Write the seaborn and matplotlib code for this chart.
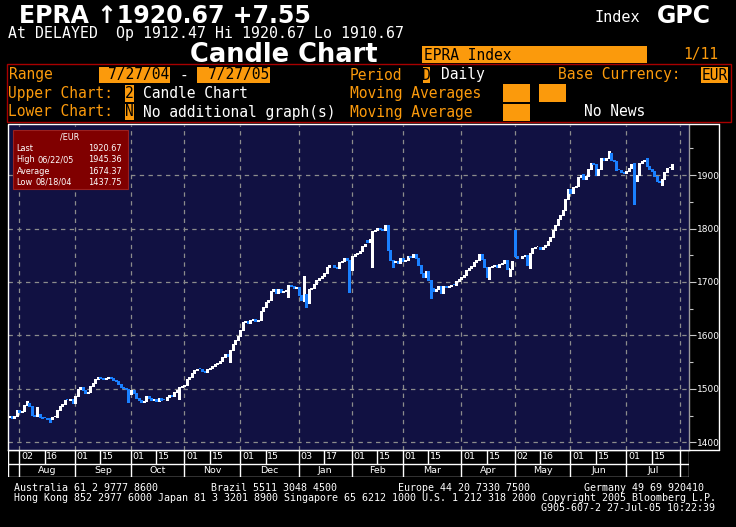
import numpy as np
import pandas as pd
import matplotlib.pyplot as plt
import seaborn as sns
from matplotlib.patches import Rectangle
from matplotlib.lines import Line2D

# ==========================================
# DATA (EPRA index, daily closes)
# ==========================================
close_jul04 = [1450, 1446, 1449, 1461]
close_aug04 = [1457, 1459, 1470, 1473, 1468, 1451, 1449, 1452, 1447, 1446, 1445,
               1444, 1443, 1447, 1448, 1461, 1467, 1472, 1480, 1479, 1481, 1473]
close_sep04 = [1486, 1499, 1503, 1497, 1492, 1495, 1506, 1511, 1518, 1522, 1520,
               1518, 1521, 1522, 1520, 1516, 1514, 1509, 1504, 1502, 1499, 1490]
close_oct04 = [1497, 1493, 1483, 1480, 1476, 1478, 1486, 1482, 1479, 1481, 1478,
               1482, 1480, 1479, 1484, 1488, 1486, 1494, 1497, 1503, 1506]
close_nov04 = [1508, 1518, 1522, 1530, 1536, 1538, 1537, 1534, 1532, 1537, 1539,
               1543, 1546, 1548, 1553, 1560, 1566, 1562, 1572, 1584, 1592, 1598]
close_dec04 = [1610, 1625, 1627, 1624, 1628, 1630, 1627, 1629, 1645, 1654, 1662,
               1667, 1683, 1686, 1680, 1686, 1682, 1683, 1685, 1694, 1693, 1689, 1690]
close_jan05 = [1675, 1667, 1678, 1661, 1687, 1688, 1696, 1703, 1708, 1712, 1717,
               1728, 1732, 1731, 1728, 1727, 1738, 1740, 1745, 1742, 1722]
close_feb05 = [1748, 1752, 1755, 1758, 1768, 1772, 1774, 1780, 1795, 1797, 1802,
               1800, 1797, 1806, 1760, 1742, 1738, 1740, 1736, 1745]
close_mar05 = [1740, 1741, 1748, 1746, 1752, 1745, 1732, 1717, 1710, 1721, 1704,
               1688, 1684, 1686, 1692, 1679, 1693, 1690, 1692, 1695, 1694, 1702, 1706]
close_apr05 = [1710, 1713, 1722, 1726, 1730, 1738, 1742, 1752, 1743, 1728, 1710,
               1728, 1730, 1731, 1728, 1733, 1736, 1742, 1724, 1725, 1740]
close_may05 = [1748, 1744, 1745, 1748, 1750, 1732, 1755, 1763, 1765, 1766, 1762,
               1766, 1769, 1777, 1785, 1797, 1806, 1818, 1826, 1834, 1856, 1875]
close_jun05 = [1866, 1878, 1880, 1896, 1900, 1893, 1898, 1912, 1922, 1920, 1901,
               1912, 1932, 1928, 1932, 1945, 1928, 1926, 1910, 1909, 1905, 1904]
close_jul05 = [1908, 1914, 1920, 1890, 1900, 1922, 1927, 1929, 1918, 1912, 1907,
               1898, 1890, 1888, 1893, 1906, 1913, 1913.12, 1920.67]

first_open = 1447
# opens that differ from the prior close (gaps), by trading-day number
open_gaps = {116: 1664, 141: 1778, 199: 1790, 226: 1902, 237: 1942,
             246: 1923, 251: 1932, 261: 1912.47}
# wicks beyond the body
high_wicks = {7: 1477, 11: 1466, 116: 1712, 199: 1798, 236: 1945.36, 261: 1920.67}
low_wicks = {16: 1437.75, 47: 1476, 67: 1481, 87: 1550, 110: 1672, 117: 1653,
             134: 1681, 143: 1728, 151: 1728, 166: 1670, 189: 1706, 197: 1712,
             205: 1727, 246: 1846, 257: 1882, 261: 1910.67}

month_names = ['Aug', 'Sep', 'Oct', 'Nov', 'Dec', 'Jan', 'Feb', 'Mar', 'Apr',
               'May', 'Jun', 'Jul']
y_ticks = [1400, 1500, 1600, 1700, 1800, 1900]

stats_rows = [('Last', '', '1920.67'), ('High', '06/22/05', '1945.36'),
              ('Average', '', '1674.37'), ('Low', '08/18/04', '1437.75')]

# ==========================================
# BUILD OHLC
# ==========================================
closes = np.array(close_jul04 + close_aug04 + close_sep04 + close_oct04 + close_nov04 +
                  close_dec04 + close_jan05 + close_feb05 + close_mar05 + close_apr05 +
                  close_may05 + close_jun05 + close_jul05, dtype=float)
days = pd.bdate_range('2004-07-27', '2005-08-01')   # one extra week for the last grid line
n = len(closes)
opens = np.r_[first_open, closes[:-1]]
for k, v in open_gaps.items():
    opens[k] = v
highs = np.maximum(opens, closes)
lows = np.minimum(opens, closes)
for k, v in high_wicks.items():
    highs[k] = v
for k, v in low_wicks.items():
    lows[k] = v
x = np.arange(n)
down = closes < opens

# month starts and mid-month label days (first business day on/after 1st and 15th)
cal = pd.Series(np.arange(len(days)), index=days)
months = [(2004, 8), (2004, 9), (2004, 10), (2004, 11), (2004, 12), (2005, 1),
          (2005, 2), (2005, 3), (2005, 4), (2005, 5), (2005, 6), (2005, 7)]
month_start = [cal[cal.index >= pd.Timestamp(y, m, 1)].iloc[0] for y, m in months]
month_start.append(cal[cal.index >= pd.Timestamp(2005, 8, 1)].iloc[0])
mid_month = [cal[cal.index >= pd.Timestamp(y, m, 15)].iloc[0] for y, m in months]

# ==========================================
# STYLE
# ==========================================
NAVY = '#111142'
BLUE = '#1a80ff'
ORANGE = '#fb9a0c'
GRID = '#8c8c8c'
sns.set_theme(style="dark", rc={"axes.facecolor": NAVY, "figure.facecolor": "black",
                                "savefig.facecolor": "black"})
plt.rcParams['font.family'] = ['DejaVu Sans']
MONO = 'DejaVu Sans Mono'

W, H = 736, 527
fig = plt.figure(figsize=(7.36, 5.27), dpi=100)


def fx(px):
    return px / W


def fy(py):
    return 1 - py / H


def ftext(px, py, s, **kw):
    kw.setdefault('va', 'center')
    kw.setdefault('color', 'white')
    fig.text(fx(px), fy(py), s, **kw)


def frect(x0, y0, x1, y1, **kw):
    fig.patches.append(Rectangle((fx(x0), fy(y1)), fx(x1) - fx(x0), fy(y0) - fy(y1),
                                 transform=fig.transFigure, **kw))


def fline(xs, ys, **kw):
    fig.lines.append(Line2D([fx(v) for v in xs], [fy(v) for v in ys],
                            transform=fig.transFigure, **kw))


# ==========================================
# HEADER
# ==========================================
ftext(19, 16, 'EPRA \u21911920.67 +7.55', fontsize=17, fontweight='bold')
ftext(595, 17, 'Index', fontsize=11, family=MONO)
ftext(657, 16, 'GPC', fontsize=17, fontweight='bold')
ftext(8.5, 34, 'At DELAYED  Op 1912.47 Hi 1920.67 Lo 1910.67', fontsize=10.7, family=MONO)
ftext(190, 54.5, 'Candle Chart', fontsize=18.5, fontweight='bold')
frect(421.5, 46, 647, 63, facecolor=ORANGE, edgecolor='none')
ftext(424, 55, 'EPRA Index', fontsize=10.5, family=MONO, color='black')
ftext(683, 55, '1/11', fontsize=10.5, family=MONO, color=ORANGE)

frect(7, 64, 731, 122, facecolor='none', edgecolor='#a80000', lw=1)
rows_y = [75, 93.5, 112]
ftext(8.5, rows_y[0], 'Range', fontsize=10.5, family=MONO, color=ORANGE)
frect(98.5, 67, 170, 83, facecolor=ORANGE, edgecolor='none')
ftext(169.5, rows_y[0], '7/27/04', fontsize=10.5, family=MONO, color='black', ha='right')
ftext(180, rows_y[0], '-', fontsize=10.5, family=MONO)
frect(197, 67, 269.5, 83, facecolor=ORANGE, edgecolor='none')
ftext(269, rows_y[0], '7/27/05', fontsize=10.5, family=MONO, color='black', ha='right')
ftext(350, rows_y[0], 'Period', fontsize=10.5, family=MONO, color=ORANGE)
frect(422.5, 67, 430.5, 83, facecolor=ORANGE, edgecolor='none')
ftext(426.5, rows_y[0], 'D', fontsize=10.5, family=MONO, color='black', ha='center')
ftext(441, rows_y[0], 'Daily', fontsize=10.5, family=MONO)
ftext(558, rows_y[0], 'Base Currency:', fontsize=10.5, family=MONO, color=ORANGE)
frect(701, 67, 728, 83, facecolor=ORANGE, edgecolor='none')
ftext(714.5, rows_y[0], 'EUR', fontsize=10.5, family=MONO, color='black', ha='center')

ftext(8.5, rows_y[1], 'Upper Chart:', fontsize=10.5, family=MONO, color=ORANGE)
frect(125, 85.5, 134, 101.5, facecolor=ORANGE, edgecolor='none')
ftext(129.5, rows_y[1], '2', fontsize=10.5, family=MONO, color='black', ha='center')
ftext(143, rows_y[1], 'Candle Chart', fontsize=10.5, family=MONO)
ftext(350, rows_y[1], 'Moving Averages', fontsize=10.5, family=MONO, color=ORANGE)
frect(503, 84, 530, 102, facecolor=ORANGE, edgecolor='none')
frect(539, 84, 566, 102, facecolor=ORANGE, edgecolor='none')

ftext(8.5, rows_y[2], 'Lower Chart:', fontsize=10.5, family=MONO, color=ORANGE)
frect(125, 104, 134, 120, facecolor=ORANGE, edgecolor='none')
ftext(129.5, rows_y[2], 'N', fontsize=10.5, family=MONO, color='black', ha='center')
ftext(143, rows_y[2], 'No additional graph(s)', fontsize=10.5, family=MONO)
ftext(350, rows_y[2], 'Moving Average', fontsize=10.5, family=MONO, color=ORANGE)
frect(503, 104, 530, 121, facecolor=ORANGE, edgecolor='none')
ftext(584, rows_y[2], 'No News', fontsize=10.5, family=MONO)

# ==========================================
# CANDLE CHART
# ==========================================
x_left, x_right = -0.4, 267.65
ax = fig.add_axes([fx(8), fy(450), fx(689) - fx(8), fy(125) - fy(450)])
ax.set_xlim(x_left, x_right)
ax.set_ylim(1385.5, 1993.9)

ax.set_yticks(y_ticks)
ax.set_yticks([v + 50 for v in y_ticks], minor=True)
ax.set_xticks(month_start)
ax.set_xticklabels([])
ax.grid(True, which='major', color=GRID, linestyle=(0, (3.5, 3.5)), lw=0.9)
ax.set_axisbelow(True)

ax.vlines(x, lows, highs, colors=np.where(down, BLUE, 'white'), lw=1, antialiased=False)
ax.bar(x, np.maximum(np.abs(closes - opens), 1.6), bottom=np.minimum(opens, closes),
       width=0.75, color=np.where(down, BLUE, 'white'), linewidth=0, antialiased=False)

ax.yaxis.tick_right()
ax.tick_params(axis='y', which='major', length=5, width=0.8, color='#c8c8c8',
               labelcolor='white', labelsize=6.5, pad=1, right=True, left=False)
ax.tick_params(axis='y', which='minor', length=3, width=0.8, color='#c8c8c8',
               right=True, left=False)
ax.tick_params(axis='x', length=0)
ax.spines['top'].set_visible(False)
ax.spines['left'].set_color('white')
ax.spines['bottom'].set_color('white')
ax.spines['right'].set_color('#9a9a9a')
for s in ax.spines.values():
    s.set_linewidth(1)

# stats box
frect(13, 130.5, 127.5, 188.5, facecolor='#800000', edgecolor='#9a2020', lw=0.8)
ftext(70, 137, '/EUR', fontsize=5.9, ha='center')
for k, (lab, dt, val) in enumerate(stats_rows):
    yy = 148.5 + k * 11.3
    ftext(16.5, yy, lab, fontsize=5.9)
    if dt:
        ftext(38 if lab == 'High' else 35, yy, dt, fontsize=5.9)
    ftext(121.5, yy, val, fontsize=5.9, ha='right')

# frame around chart + price scale
fline([8, 719], [123.5, 123.5], color='white', lw=1)
fline([719, 719], [123.5, 449.5], color='white', lw=1)
fline([689, 719], [449.5, 449.5], color='white', lw=1)

# ==========================================
# DATE SCALE
# ==========================================
ax2 = fig.add_axes([fx(8), fy(477), fx(689) - fx(8), fy(450) - fy(477)])
ax2.set_xlim(x_left, x_right)
ax2.set_ylim(0, 2)
ax2.set_facecolor('black')
ax2.axis('off')
ax2.hlines([0, 1, 2], x_left, x_right, color='white', lw=1)
ax2.vlines([x_left + 0.1, x_right - 0.1], 0, 2, color='white', lw=1)
ax2.vlines(month_start, 0, 2, color='white', lw=1)
ax2.vlines(mid_month, 1, 2, color='white', lw=1)
for p in month_start[:-1] + mid_month:
    ax2.text(p + 0.7, 1.5, '%02d' % days[p].day, color='white', fontsize=6.8,
             va='center', ha='left')
for a, b, name in zip(month_start[:-1], month_start[1:], month_names):
    ax2.text((a + b) / 2, 0.5, name, color='white', fontsize=6.8, va='center', ha='center')

# ==========================================
# FOOTER
# ==========================================
ftext(14, 488, 'Australia 61 2 9777 8600', fontsize=7.2, family=MONO)
ftext(211, 488, 'Brazil 5511 3048 4500', fontsize=7.2, family=MONO)
ftext(398, 488, 'Europe 44 20 7330 7500', fontsize=7.2, family=MONO)
ftext(583.5, 488, 'Germany 49 69 920410', fontsize=7.2, family=MONO)
ftext(14, 498, 'Hong Kong 852 2977 6000 Japan 81 3 3201 8900 Singapore 65 6212 1000 '
      'U.S. 1 212 318 2000 Copyright 2005 Bloomberg L.P.', fontsize=7.2, family=MONO)
ftext(541, 508, 'G905-607-2 27-Jul-05 10:22:39', fontsize=7.2, family=MONO)

fig.savefig('out.png', dpi=100, facecolor='black')
